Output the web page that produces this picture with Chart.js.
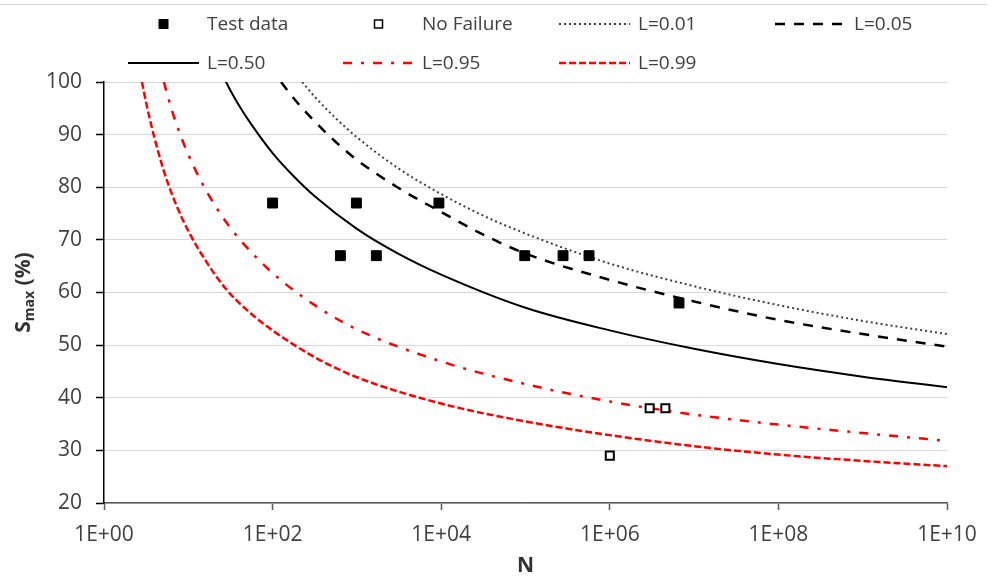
<!DOCTYPE html>
<html><head><meta charset="utf-8">
<script src="https://cdn.jsdelivr.net/npm/chart.js@4.4.0/dist/chart.umd.min.js"></script>
<style>html,body{margin:0;padding:0;background:#fff;} #wrap{width:994px;height:578px;position:relative;}</style>
</head><body><div id="wrap"><canvas id="c" width="994" height="578"></canvas></div>
<script>
// ---- data ----
const xTickValues = [1, 1e2, 1e4, 1e6, 1e8, 1e10];
const xTickLabels = ['1E+00', '1E+02', '1E+04', '1E+06', '1E+08', '1E+10'];
const yTickValues = [20, 30, 40, 50, 60, 70, 80, 90, 100];

const testN = [100, 637, 986, 1700, 9400, 98000, 279000, 567000, 6620000];
const testS = [77, 67, 77, 67, 77, 67, 67, 67, 58];

const noFailN = [2970000, 4560000, 1000000];
const noFailS = [38, 38, 29];

const l001N = [223.9, 316.2, 562.3, 1e3, 3162, 1e4, 31623, 1e5, 1e6, 1e7, 1e8, 1e9, 1e10];
const l001S = [100, 97.2, 93.1, 89.5, 83.5, 78.7, 74.6, 71.2, 65.5, 61.2, 57.6, 54.6, 52.1];

const l005N = [125.9, 177.8, 316.2, 562.3, 1e3, 3162, 1e4, 31623, 1e5, 1e6, 1e7, 1e8, 1e9, 1e10];
const l005S = [100, 96.9, 92.5, 88.6, 85.2, 79.8, 75.3, 71.0, 67.4, 62.4, 58.3, 54.8, 52.1, 49.7];

const l050N = [26.3, 31.62, 39.81, 56.23, 100, 177.8, 316.2, 1e3, 3162, 1e4, 1e5, 1e6, 1e7, 1e8, 1e9, 1e10];
const l050S = [100.9, 98.4, 95.6, 91.9, 86.5, 82.1, 78.3, 72.1, 67.3, 63.4, 57.1, 52.8, 49.3, 46.4, 44.0, 42.0];

const l095N = [5.129, 6.31, 7.943, 10, 15.85, 25.12, 39.81, 100, 316.2, 1e3, 1e4, 1e5, 1e6, 1e7, 1e8, 1e9, 1e10];
const l095S = [100, 94.9, 90.2, 86.2, 79.7, 74.5, 70.3, 63.7, 57.6, 53.0, 46.9, 42.6, 39.3, 36.8, 34.9, 33.3, 31.8];

const l099N = [2.818, 3.311, 3.981, 5.012, 5.754, 7.079, 10, 15.85, 27.54, 50.12, 100, 316.2, 1e3, 1e4, 1e5, 1e6, 1e7, 1e8, 1e9, 1e10];
const l099S = [100, 94.6, 89.3, 83.6, 80.7, 76.9, 71.7, 66.2, 60.8, 56.6, 52.8, 47.7, 43.9, 38.9, 35.5, 32.9, 30.8, 29.2, 28.0, 27.0];

const seriesLabels = ['Test data', 'No Failure', 'L=0.01', 'L=0.05', 'L=0.50', 'L=0.95', 'L=0.99'];

// ---- helpers ----
const pts = (xs, ys) => xs.map((x, i) => ({ x: x, y: ys[i] }));
const FONT = "'Open Sans', 'Liberation Sans', sans-serif";
const TXT = '#404040';

function lineSet(label, xs, ys, color, width, dash) {
  return {
    label: label, data: pts(xs, ys), showLine: true, fill: false,
    borderColor: color, backgroundColor: color, borderWidth: width, borderDash: dash,
    pointRadius: 0, pointHoverRadius: 0, cubicInterpolationMode: 'monotone', clip: 0
  };
}

const datasets = [
  { label: seriesLabels[0], data: pts(testN, testS), pointStyle: 'rect', pointRadius: 7,
    backgroundColor: '#000', borderColor: '#000', borderWidth: 1, showLine: false, clip: false },
  { label: seriesLabels[1], data: pts(noFailN, noFailS), pointStyle: 'rect', pointRadius: 5.7,
    backgroundColor: '#fff', borderColor: '#000', borderWidth: 2, showLine: false, clip: false },
  lineSet(seriesLabels[2], l001N, l001S, '#404040', 2, [2, 3]),
  lineSet(seriesLabels[3], l005N, l005S, '#000', 2.5, [10, 9]),
  lineSet(seriesLabels[4], l050N, l050S, '#000', 2, []),
  lineSet(seriesLabels[5], l095N, l095S, '#ff0000', 2.5, [9, 9, 3, 9]),
  lineSet(seriesLabels[6], l099N, l099S, '#ff0000', 2.5, [7, 3])
];

// custom legend + titles
const decor = {
  id: 'decor',
  beforeDraw(chart) {
    const c = chart.ctx;
    c.save();
    c.fillStyle = '#fff';
    c.fillRect(0, 0, chart.width, chart.height);
    c.strokeStyle = '#d9d9d9'; c.lineWidth = 1;
    c.beginPath(); c.moveTo(0, 4.5); c.lineTo(987, 4.5); c.stroke();
    c.restore();
  },
  afterDraw(chart) {
    const c = chart.ctx;
    const ds = chart.data.datasets;
    const colX = [128, 343, 559, 775];
    const rowY = [24, 63];
    const symW = 71;
    c.save();
    for (let i = 0; i < ds.length; i++) {
      const col = i < 4 ? i : i - 4;
      const row = i < 4 ? 0 : 1;
      const x0 = colX[col], y = rowY[row];
      const d = ds[i];
      if (d.showLine) {
        c.beginPath();
        c.setLineDash(d.borderDash || []);
        c.strokeStyle = d.borderColor; c.lineWidth = d.borderWidth;
        c.moveTo(x0, y); c.lineTo(x0 + symW, y); c.stroke();
        c.setLineDash([]);
      } else {
        const cx = x0 + symW / 2;
        if (i === 0) {
          c.fillStyle = '#000'; c.fillRect(cx - 5, y - 5, 10, 10);
        } else {
          c.fillStyle = '#fff'; c.strokeStyle = '#000'; c.lineWidth = 1.5;
          c.fillRect(cx - 4, y - 4, 8, 8); c.strokeRect(cx - 4, y - 4, 8, 8);
        }
      }
      c.fillStyle = TXT;
      c.font = '19px ' + FONT;
      c.textBaseline = 'middle'; c.textAlign = 'left';
      c.fillText(d.label, x0 + 79, y + 1);
    }
    // x title
    const ca = chart.chartArea;
    c.fillStyle = '#333';
    c.font = 'bold 21px ' + FONT;
    c.textAlign = 'center'; c.textBaseline = 'middle';
    c.fillText('N', (ca.left + ca.right) / 2, 566);
    // y title with subscript
    c.translate(24, (ca.top + ca.bottom) / 2);
    c.rotate(-Math.PI / 2);
    c.textAlign = 'left';
    const fBig = 'bold 21px ' + FONT, fSub = 'bold 14px ' + FONT;
    c.font = fBig; const wS = c.measureText('S').width;
    c.font = fSub; const wM = c.measureText('max').width;
    c.font = fBig; const wP = c.measureText(' (%)').width;
    let x = -(wS + wM + wP) / 2;
    c.font = fBig; c.fillText('S', x, 0); x += wS;
    c.font = fSub; c.fillText('max', x, 6); x += wM;
    c.font = fBig; c.fillText(' (%)', x, 0);
    c.restore();
  }
};

new Chart(document.getElementById('c'), {
  type: 'scatter',
  data: { datasets: datasets },
  plugins: [decor],
  options: {
    responsive: false, animation: false, devicePixelRatio: 1,
    layout: { padding: { top: 82, right: 47, left: 0, bottom: 0 } },
    plugins: { legend: { display: false }, tooltip: { enabled: false } },
    scales: {
      x: {
        type: 'logarithmic', min: 1, max: 1e10, position: 'bottom',
        afterBuildTicks: (s) => { s.ticks = xTickValues.map(v => ({ value: v })); },
        afterFit: (s) => { s.height = 75; },
        ticks: {
          autoSkip: false, maxRotation: 0, minRotation: 0, padding: 12,
          font: { family: FONT, size: 21 }, color: TXT,
          callback: (v) => { const i = xTickValues.indexOf(v); return i >= 0 ? xTickLabels[i] : ''; }
        },
        grid: { display: true, drawOnChartArea: false, drawTicks: true, tickLength: 7, tickColor: '#595959', tickWidth: 1.5 },
        border: { display: true, color: '#595959', width: 1.5 }
      },
      y: {
        min: 20, max: 100,
        afterBuildTicks: (s) => { s.ticks = yTickValues.map(v => ({ value: v })); },
        afterFit: (s) => { s.width = 104; },
        ticks: { padding: 14, font: { family: FONT, size: 21 }, color: TXT },
        grid: { color: '#d9d9d9', lineWidth: 1, tickLength: 8, tickColor: '#000', tickWidth: 1.5 },
        border: { display: true, color: '#000', width: 1.5 }
      }
    }
  }
});
</script></body></html>
